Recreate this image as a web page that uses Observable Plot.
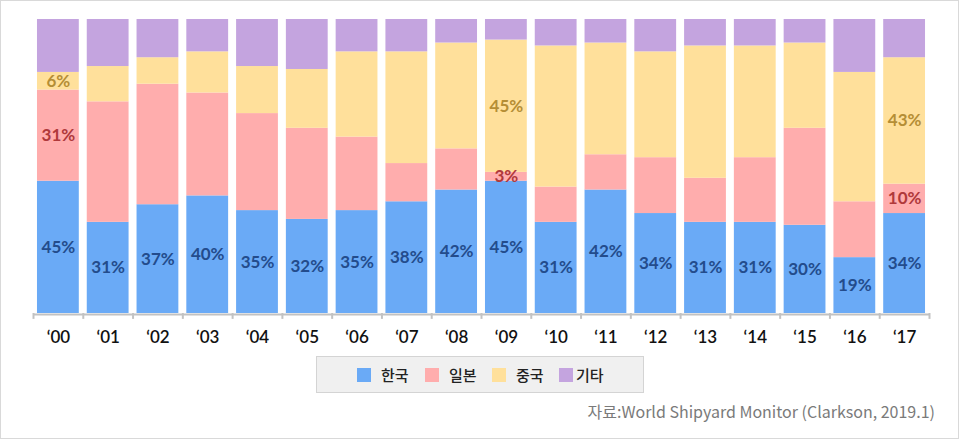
<!DOCTYPE html>
<html>
<head>
<meta charset="utf-8">
<script src="https://cdn.jsdelivr.net/npm/d3@7"></script>
<script src="https://cdn.jsdelivr.net/npm/@observablehq/plot@0.6"></script>
<style>
  html, body { margin: 0; padding: 0; background: #fff; }
  #page { position: relative; width: 960px; height: 440px; overflow: hidden; }
  #frame { position: absolute; left: 0; top: 0; width: 959px; height: 439px; box-sizing: border-box; border: 1px solid #d9d9d9; pointer-events: none; }
  #chart { position: absolute; left: 0; top: 0; }
  #legend { position: absolute; left: 316px; top: 356px; width: 328px; height: 37px; box-sizing: border-box;
            background: #f0f0f0; border: 1px solid #d4d4d4; font-family: "Noto Sans CJK KR", "Noto Sans", sans-serif;
            font-size: 15px; font-weight: 500; color: #222; }
  .item { position: absolute; top: 0; height: 35px; display: flex; align-items: center; }
  .sw { width: 14px; height: 14px; margin-right: 10px; }
  #caption { position: absolute; right: 25px; top: 400px; line-height: 22px; font-family: "Noto Sans CJK KR", "Noto Sans", sans-serif;
             font-size: 16px; color: #7a7a7a; white-space: nowrap; }
</style>
</head>
<body>
<div id="page">
  <div id="chart"></div>
  <div id="legend"></div>
  <div id="caption"></div>
  <div id="frame"></div>
</div>
<script>
const years = ["‘00","‘01","‘02","‘03","‘04","‘05","‘06","‘07","‘08","‘09","‘10","‘11","‘12","‘13","‘14","‘15","‘16","‘17"];
const countries = ["한국", "일본", "중국", "기타"];
const colors = ["#6aaaf6", "#ffadad", "#ffe09b", "#c4a4df"];
const labelColors = ["#234c8c", "#b0393b", "#b58e35"];
const korea = [45, 31, 37, 40, 35, 32, 35, 38, 42, 45, 31, 42, 34, 31, 31, 30, 19, 34];
const japan = [31, 41, 41, 35, 33, 31, 25, 13, 14, 3, 12, 12, 19, 15, 22, 33, 19, 10];
const china = [6, 12, 9, 14, 16, 20, 29, 38, 36, 45, 48, 38, 36, 45, 38, 29, 44, 43];
const other = [18, 16, 13, 11, 16, 17, 11, 11, 8, 7, 9, 8, 11, 9, 9, 8, 18, 13];
const labeledYears = ["‘00", "‘09", "‘17"];
const source = "자료:World Shipyard Monitor (Clarkson, 2019.1)";

const series = [korea, japan, china, other];
const data = [];
countries.forEach((c, ci) => years.forEach((y, yi) => data.push({year: y, country: c, value: series[ci][yi]})));

const W = 960, H = 345, mL = 33, mR = 31;
const step = (W - mL - mR) / years.length;

function labelMark(ci) {
  const c = countries[ci];
  return Plot.text(data, Plot.stackY({
    x: "year", y: "value", z: "country",
    text: d => (d.country === c && (ci === 0 || labeledYears.includes(d.year))) ? d.value + "%" : null,
    fill: labelColors[ci], fontSize: 17, fontWeight: 700, fontFamily: "Lato, sans-serif"
  }));
}

const chart = Plot.plot({
  width: W, height: H,
  marginTop: 19, marginBottom: 32, marginLeft: mL, marginRight: mR,
  style: {fontFamily: "Lato, sans-serif", background: "transparent", overflow: "visible"},
  x: {domain: years, paddingInner: 0.16, paddingOuter: 0.08, round: false, label: null},
  y: {domain: [0, 100], axis: null},
  color: {domain: countries, range: colors},
  marks: [
    Plot.barY(data, Plot.stackY({x: "year", y: "value", z: "country", fill: "country"})),
    Plot.ruleY([0], {stroke: "#c2c2c2", strokeWidth: 2, dy: 1}),
    Plot.ruleX(years, {x: d => d, y1: 0, y2: -2, stroke: "#c2c2c2", strokeWidth: 2, dx: -step / 2}),
    Plot.ruleX(years.slice(-1), {x: d => d, y1: 0, y2: -2, stroke: "#c2c2c2", strokeWidth: 2, dx: step / 2}),
    labelMark(0), labelMark(1), labelMark(2),
    Plot.axisX({tickSize: 0, tickPadding: 17, fontSize: 17, fontWeight: 600, fill: "#111", fontFamily: "Lato, sans-serif"})
  ]
});
document.getElementById("chart").appendChild(chart);

const legend = document.getElementById("legend");
const lefts = [40, 108, 175, 242];
countries.forEach((c, i) => {
  const it = document.createElement("div");
  it.className = "item";
  it.style.left = lefts[i] + "px";
  const sw = document.createElement("span");
  sw.className = "sw";
  sw.style.background = colors[i];
  if (i === 3) sw.style.marginRight = "3px";
  const tx = document.createElement("span");
  tx.textContent = c;
  it.appendChild(sw); it.appendChild(tx);
  legend.appendChild(it);
});
document.getElementById("caption").textContent = source;
</script>
</body>
</html>
